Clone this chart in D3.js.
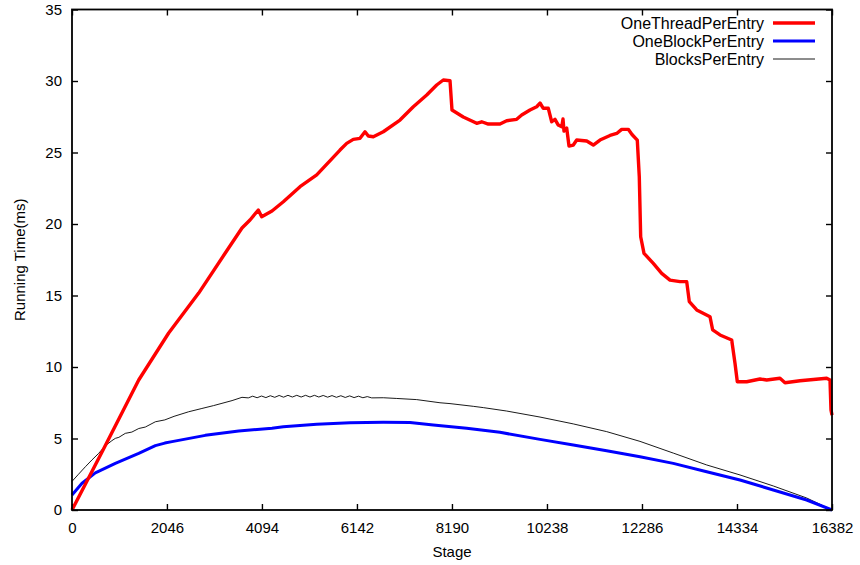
<!DOCTYPE html>
<html>
<head>
<meta charset="utf-8">
<script src="https://cdn.jsdelivr.net/npm/d3@7"></script>
<style>
    body { margin: 0; background: #fff; }
    text { font-family: "Liberation Sans", Arial, Helvetica, sans-serif; }
</style>
</head>
<body>
<script>
// values
const xTicks = [0, 2046, 4094, 6142, 8190, 10238, 12286, 14334, 16382];
const yTicks = [0, 5, 10, 15, 20, 25, 30, 35];

const seriesNames = ["OneThreadPerEntry", "OneBlockPerEntry", "BlocksPerEntry"];

const threadStage = [
    0, 647, 1438, 2084, 2731, 3304, 3664, 3837, 4016, 4089, 4311, 4555, 4915,
    5275, 5777, 5921, 6063, 6208, 6316, 6387, 6495, 6710, 7070, 7357, 7646,
    7861, 8003, 8148, 8191, 8434, 8723, 8831, 8973, 9225, 9370, 9585, 9693,
    9872, 10016, 10088, 10159, 10267, 10340, 10411, 10482, 10556, 10584, 10605,
    10663, 10713, 10806, 10879, 11095, 11237, 11381, 11597, 11741, 11849, 11991,
    12071, 12185, 12228, 12258, 12330, 12530, 12711, 12890, 13106, 13250, 13306,
    13466, 13752, 13810, 13968, 14220, 14291, 14341, 14543, 14830, 14974, 15261,
    15369, 15692, 16268, 16339, 16360, 16382,
];
const threadTime = [
    0, 4.06, 9.09, 12.38, 15.17, 17.97, 19.72, 20.28, 20.98, 20.51, 20.91, 21.56, 22.61,
    23.43, 25.17, 25.64, 25.92, 25.99, 26.45, 26.15, 26.10, 26.45, 27.27, 28.20, 29.02,
    29.72, 30.07, 30.02, 27.97, 27.48, 27.04, 27.15, 26.99, 26.99, 27.22, 27.32, 27.62,
    27.97, 28.20, 28.46, 28.09, 28.09, 27.15, 27.32, 26.92, 26.80, 27.34, 26.50,
    26.71, 25.45, 25.52, 25.87, 25.80, 25.52, 25.87, 26.19, 26.33, 26.62, 26.62,
    26.26, 25.87, 23.31, 19.11, 17.95, 17.25, 16.55, 16.08, 15.97, 15.97, 14.57,
    13.99, 13.52, 12.59, 12.24, 11.89, 10.26, 8.97, 8.97, 9.16, 9.09, 9.21,
    8.90, 9.04, 9.21, 9.09, 7.0, 6.64,
];

const blockStage = [
    0, 216, 503, 934, 1438, 1797, 2000, 2156, 2873, 3593, 4311, 4555, 5275, 5992,
    6710, 7286, 7788, 8508, 9225, 10088, 10806, 11525, 12243, 12961, 13681, 14399,
    15117, 15836, 16382,
];
const blockTime = [
    1.05, 1.87, 2.6, 3.26, 3.96, 4.5, 4.68, 4.78, 5.22, 5.52, 5.72, 5.82, 6.0, 6.1,
    6.13, 6.12, 5.95, 5.72, 5.43, 4.94, 4.55, 4.15, 3.73, 3.26, 2.68, 2.1,
    1.4, 0.7, 0,
];

const blocksStage = [
    0, 140, 290, 430, 575, 720, 860, 934, 1010, 1149, 1290, 1440, 1580, 1797, 2000,
    2200, 2515, 2800, 3050, 3233, 3450, 3664,
    3800, 3895, 3990, 4085, 4180, 4275, 4370, 4465, 4560, 4655, 4750, 4845, 4940,
    5035, 5130, 5225, 5320, 5415, 5510, 5605, 5700, 5795, 5890, 5985, 6080, 6175,
    6270, 6365, 6460,
    6710, 7000, 7430, 7932, 8148, 8650, 8866, 9370, 10088, 10806, 11525, 12243,
    12961, 13681, 14399, 15117, 15836, 16382,
];
const blocksTime = [
    2.0, 2.5, 3.03, 3.5, 3.96, 4.5, 4.85, 5.01, 5.08, 5.36, 5.45, 5.7, 5.8, 6.17, 6.3,
    6.55, 6.87, 7.1, 7.3, 7.46, 7.65, 7.88,
    7.84, 7.96, 7.85, 7.97, 7.86, 7.99, 7.88, 8.01, 7.89, 8.02, 7.9, 8.02, 7.9,
    8.02, 7.9, 8.02, 7.9, 8.01, 7.89, 8.0, 7.88, 7.99, 7.87, 7.98, 7.86, 7.96,
    7.85, 7.93, 7.84,
    7.85, 7.8, 7.72, 7.5, 7.44, 7.25, 7.16, 6.92, 6.5, 6.02, 5.48, 4.8,
    3.98, 3.15, 2.45, 1.68, 0.84, 0,
];

const fullSize = {
    width: 860,
    height: 565,
};
const plot = {
    left: 72,
    right: 832,
    top: 9.5,
    bottom: 510,
};

const svg = d3.select(document.body).append("svg")
    .attr("width", fullSize.width)
    .attr("height", fullSize.height)
;

const x = d3.scaleLinear().domain([0, 16382]).range([plot.left, plot.right]);
const y = d3.scaleLinear().domain([0, 35]).range([plot.bottom, plot.top]);

const fontSize = "15px";
const tickLen = 6;

// mirrored inward ticks on all four sides
const axes = [
    [d3.axisBottom(x).tickValues(xTicks), plot.bottom, "x", true],
    [d3.axisTop(x).tickValues(xTicks), plot.top, "x", false],
    [d3.axisLeft(y).tickValues(yTicks), plot.left, "y", true],
    [d3.axisRight(y).tickValues(yTicks), plot.right, "y", false],
];
axes.forEach(([axis, pos, dir, labels]) => {
    axis.tickSizeInner(-tickLen).tickSizeOuter(0).tickFormat(labels ? d3.format("d") : "");
    const g = svg.append("g")
        .attr("transform", dir === "x" ? `translate(0,${pos})` : `translate(${pos},0)`)
        .call(axis)
    ;
    g.select(".domain").remove();
    g.selectAll(".tick line")
        .attr("stroke", "#000")
        .attr("stroke-width", 1.4)
    ;
    g.selectAll(".tick text")
        .attr("fill", "#000")
        .style("font-size", fontSize)
    ;
    if (dir === "x" && labels) {
        g.selectAll(".tick text").attr("y", 9).attr("dy", "0.95em");
    }
    if (dir === "y" && labels) {
        g.selectAll(".tick text").attr("x", -10);
    }
});

// series
const series = [
    [threadStage, threadTime, "#ff0000", 3.4],
    [blockStage, blockTime, "#0000ff", 3],
    [blocksStage, blocksTime, "#000000", 0.9],
];
const line = d3.line()
    .x(d => x(d[0]))
    .y(d => y(d[1]))
;
series.slice().reverse().forEach(([xs, ys, color, width]) => {
    svg.append("path")
        .datum(d3.zip(xs, ys))
        .attr("fill", "none")
        .attr("stroke", color)
        .attr("stroke-width", width)
        .attr("stroke-linejoin", "round")
        .attr("d", line)
    ;
});

// frame
svg.append("rect")
    .attr("x", plot.left)
    .attr("y", plot.top)
    .attr("width", plot.right - plot.left)
    .attr("height", plot.bottom - plot.top)
    .attr("fill", "none")
    .attr("stroke", "#000")
    .attr("stroke-width", 1.8)
;

// legend
const legend = svg.append("g");
series.forEach(([xs, ys, color, width], i) => {
    const ly = 23 + i * 18;
    legend.append("text")
        .text(seriesNames[i])
        .attr("x", 764)
        .attr("y", ly)
        .attr("dy", "0.35em")
        .attr("text-anchor", "end")
        .style("font-size", "16px")
    ;
    legend.append("line")
        .attr("x1", 773)
        .attr("x2", 815)
        .attr("y1", ly)
        .attr("y2", ly)
        .attr("stroke", color)
        .attr("stroke-width", width)
    ;
});

// axis labels
svg.append("text")
    .text("Stage")
    .attr("x", (plot.left + plot.right) / 2)
    .attr("y", 557)
    .attr("text-anchor", "middle")
    .style("font-size", fontSize)
;
svg.append("text")
    .text("Running Time(ms)")
    .attr("transform", `translate(25,${(plot.top + plot.bottom) / 2}) rotate(-90)`)
    .attr("text-anchor", "middle")
    .style("font-size", fontSize)
;
</script>
</body>
</html>
